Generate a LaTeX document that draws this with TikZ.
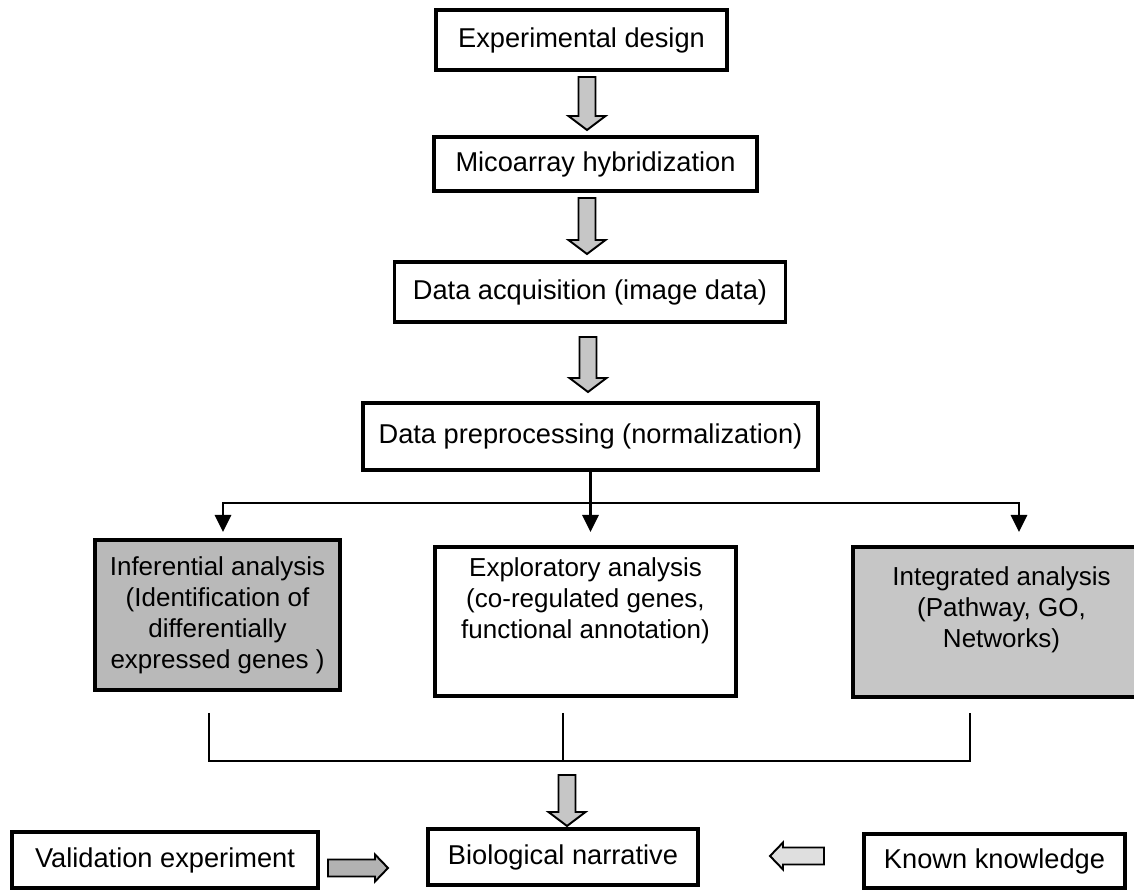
\documentclass[tikz,border=0pt]{standalone}
\usepackage{fontspec}
\setmainfont{Liberation Sans}
\usetikzlibrary{arrows.meta}

\tikzset{
    blkcol/.store in=\blkcol, blkcol=gray!45,
    % block arrow: length, half shaft, half head, head length
    pics/blkarr/.style n args={4}{code={
        \draw[line width=1.1pt, fill=\blkcol]
            (0,-#2) -- (#1-#4,-#2) -- (#1-#4,-#3) -- (#1,0) -- (#1-#4,#3)
            -- (#1-#4,#2) -- (0,#2) -- cycle;
    }}
}

\begin{document}
\begin{tikzpicture}[x=0.02cm, y=-0.02cm,
        font=\fontsize{15.5}{18}\selectfont,
        box/.style={draw, line width=2.2pt, inner xsep=2pt, minimum height=1.12cm},
        ana/.style={draw, line width=2.2pt, align=center, inner xsep=1pt, minimum height=3cm,
                    font=\fontsize{14.8}{17.6}\selectfont},
        br/.style={line width=1.6pt, -{Triangle[length=0.34cm, width=0.32cm]}},
        ln/.style={line width=1.1pt}]

    \useasboundingbox (0,0) rectangle (1134,891);

    % main column
    \node[box, minimum width=5.82cm, minimum height=1.2cm] (des) at (581.5, 40) {Experimental design};
    \node[box, minimum width=6.46cm, minimum height=1.08cm] (hyb) at (595.5, 164) {Micoarray hybridization};
    \node[box, minimum width=7.82cm, minimum height=1.2cm] (acq) at (590, 292) {Data acquisition (image data)};
    \node[box, minimum width=9.1cm, minimum height=1.34cm] (pre) at (590.5, 436.5) {Data preprocessing (normalization)};

    \pic[rotate=-90] at (587, 77) {blkarr={53}{8.5}{18.5}{14}};
    \pic[rotate=-90] at (587, 198) {blkarr={56}{8.5}{18.5}{14}};
    \pic[rotate=-90] at (588, 337) {blkarr={55}{8.5}{18.5}{14}};

    % analysis
    \node[ana, fill=gray!55, minimum width=4.9cm] (inf) at (217.5, 615)
        {Inferential analysis\\(Identification of\\differentially\\expressed genes )};
    \node[ana, minimum width=6.02cm, minimum height=2.98cm] (exp) at (585.5, 621.5)
        {Exploratory analysis\\(co-regulated genes,\\functional annotation)\\[0.32cm]};
    \node[ana, fill=gray!45, minimum width=5.94cm] (int) at (1001.5, 622)
        {Integrated analysis\\(Pathway, GO,\\Networks)\\[-0.02cm]};

    \coordinate (split) at (pre.south |- 0, 503);
    \draw[ln, line width=1.6pt] (pre.south) -- (split);
    \draw[br] (split) -| (223, 532);
    \draw[br] (split) -- ++(0, 29);
    \draw[br] (split) -| (1019, 532);

    % merge
    \coordinate (merge) at (563, 761);
    \draw[ln] (209, 713) |- (970, 761) -- (970, 713);
    \draw[ln] (563, 713) -- (merge);

    % bottom row
    \node[box, minimum width=5.4cm] (nar) at (563, 857) {Biological narrative};
    \node[box, minimum width=6.12cm] (val) at (165, 860) {Validation experiment};
    \node[box, minimum width=5.22cm, minimum height=1.08cm] (kno) at (994.5, 861) {Known knowledge};
    \pic[rotate=-90] at (567, 775) {blkarr={51}{8.5}{18.5}{14}};
    \pic[blkcol=gray!60] at (328, 868) {blkarr={60}{8.5}{13.5}{13}};
    \pic[blkcol=gray!25, rotate=180] at (824, 856) {blkarr={54}{8.5}{13.5}{13}};

\end{tikzpicture}
\end{document}
